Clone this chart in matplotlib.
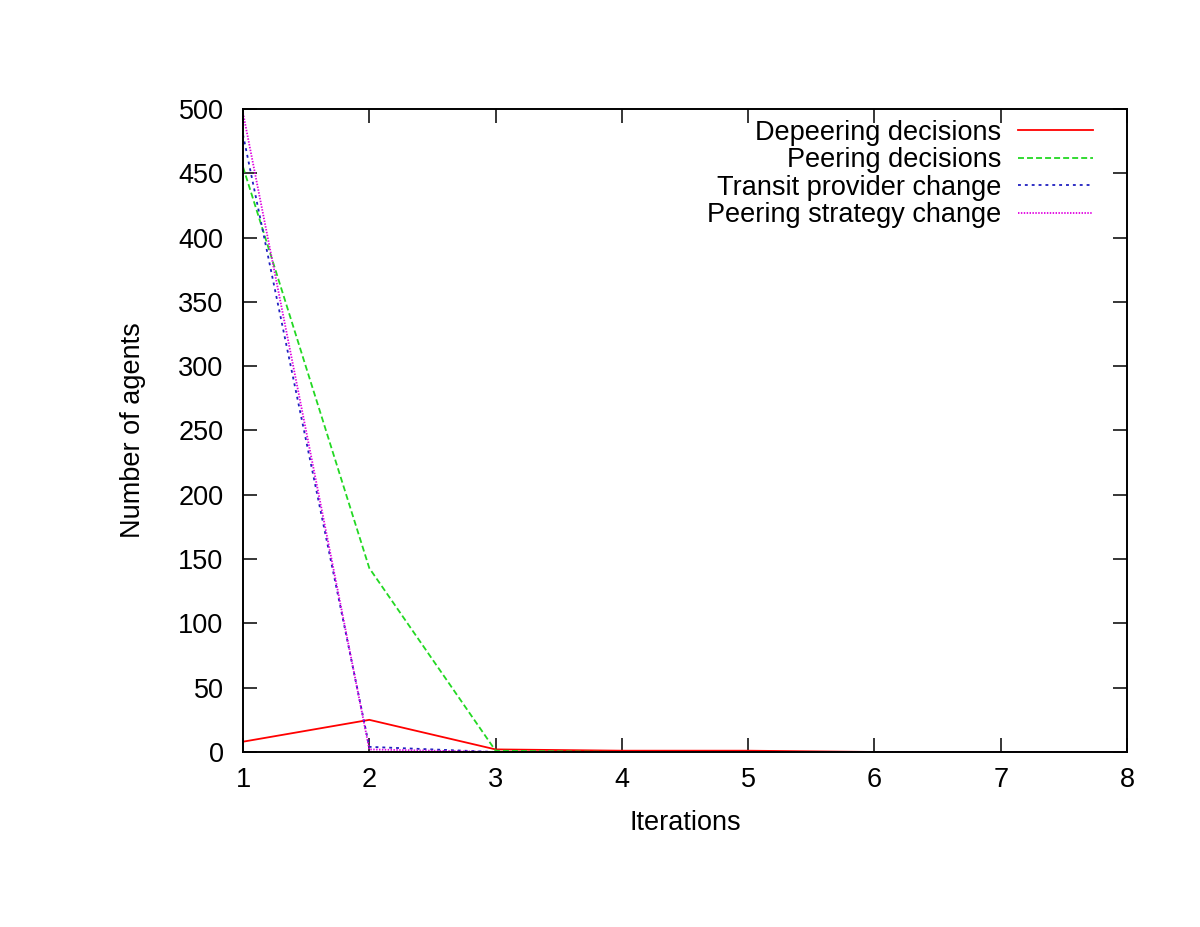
import matplotlib
matplotlib.use('Agg')
import matplotlib.pyplot as plt

plt.rcParams['font.family'] = ['Liberation Sans', 'DejaVu Sans']

# Datos
iteraciones = [1, 2, 3, 4, 5, 6, 7, 8]
depeering = [8, 25, 2, 1, 1, 0, 0, 0]
peering = [455, 143, 1, 0, 0, 0, 0, 0]
transit = [480, 4, 0, 0, 0, 0, 0, 0]
estrategia = [497, 2, 0, 0, 0, 0, 0, 0]

fig = plt.figure(figsize=(12, 9.27), dpi=100)
ax = fig.add_axes([0.2025, 0.1888, 0.7367, 0.6936])

lw = 1.3
ax.plot(iteraciones, depeering, color='#ff0000', lw=lw, label='Depeering decisions')
ax.plot(iteraciones, peering, color='#22d822', lw=lw, ls=(0, (3.3, 1.7)), label='Peering decisions')
ax.plot(iteraciones, transit, color='#2020c0', lw=lw, ls=(0, (1.6, 2.2)), label='Transit provider change')
ax.plot(iteraciones, estrategia, color='#e000e0', lw=lw, ls=(0, (0.8, 0.8)), label='Peering strategy change')

ax.set_xlim(1, 8)
ax.set_ylim(0, 500)
ax.set_xticks(range(1, 9))
ax.set_yticks(range(0, 501, 50))
ax.tick_params(direction='in', top=True, right=True, length=10, width=1.1, labelsize=19.5)
ax.tick_params(axis='y', pad=14)
ax.tick_params(axis='x', pad=11)
for s in ax.spines.values():
    s.set_linewidth(1.4)

ax.set_xlabel('Iterations', fontsize=19.5, labelpad=12)
ax.set_ylabel('Number of agents', fontsize=19.5, labelpad=23)

ax.legend(loc='upper right', bbox_to_anchor=(0.9615, 0.983), frameon=False, fontsize=19.5,
          markerfirst=False, handlelength=2.77, handletextpad=0.63, labelspacing=0.05,
          borderaxespad=0, borderpad=0)

plt.savefig('out.png', dpi=100)
